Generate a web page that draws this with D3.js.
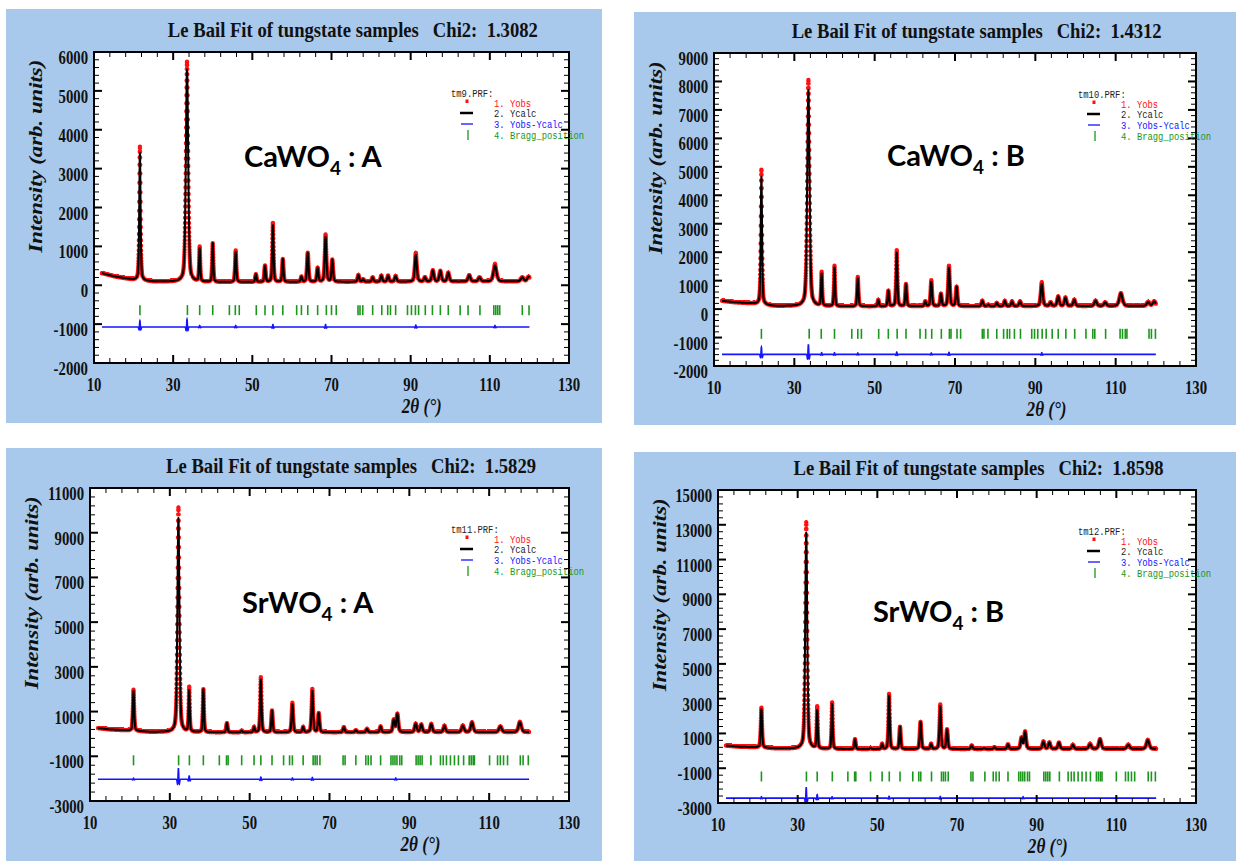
<!DOCTYPE html>
<html>
<head>
<meta charset="utf-8">
<script src="https://cdn.jsdelivr.net/npm/d3@7"></script>
<style>
  html, body { margin: 0; padding: 0; background: #ffffff; }
  svg { display: block; }
</style>
</head>
<body>
<svg id="fig" width="1236" height="861"></svg>
<script>
// ------------------------------------------------------------------
// Le Bail fits of four tungstate powder patterns (CaWO4 and SrWO4)
// ------------------------------------------------------------------

// shared axis / caption data
const xTickValues = [10, 30, 50, 70, 90, 110, 130];
const chi2Values = ["1.3082", "1.4312", "1.5829", "1.8598"];
const prfFiles = ["tm9.PRF:", "tm10.PRF:", "tm11.PRF:", "tm12.PRF:"];
const sampleLabels = [["CaWO", "4", " : A"], ["CaWO", "4", " : B"], ["SrWO", "4", " : A"], ["SrWO", "4", " : B"]];
const legendNames = ["1. Yobs", "2. Ycalc", "3. Yobs-Ycalc", "4. Bragg_position"];
// sample label anchor in data units [2theta, intensity]
const labelAnchors = [[47.9, 3040], [53.1, 5030], [48.1, 5410], [48.9, 7410]];

// ---------------- CaWO4 : A ----------------
const caA_yTicks = [-2000, -1000, 0, 1000, 2000, 3000, 4000, 5000, 6000];
const caA_background = [[12, 310], [15, 230], [20, 140], [25, 95], [40, 80], [120, 100]];
// [2theta, peak top (Ycalc), FWHM]
const caA_peaks = [
  [21.6, 3400, 0.40], [33.5, 5550, 0.70], [36.7, 930, 0.35], [40.0, 1075, 0.35],
  [45.8, 850, 0.40], [50.9, 280, 0.40], [53.2, 500, 0.40], [55.2, 1540, 0.40],
  [57.7, 670, 0.40], [62.4, 215, 0.45], [64.0, 830, 0.45], [66.5, 440, 0.45],
  [68.5, 1240, 0.50], [70.2, 650, 0.45], [76.8, 260, 0.50], [78.0, 150, 0.50],
  [80.4, 200, 0.50], [82.6, 245, 0.50], [84.3, 245, 0.50], [86.2, 235, 0.55],
  [91.3, 780, 0.60], [93.6, 200, 0.55], [95.6, 380, 0.60], [97.5, 365, 0.60],
  [99.5, 320, 0.60], [104.8, 255, 0.70], [107.4, 200, 0.70], [111.3, 510, 0.90],
  [118.2, 200, 0.80], [119.8, 215, 0.80]
];
// [2theta, Yobs - Ycalc amplitude]
const caA_residuals = [[21.6, 160], [33.5, 200], [36.7, 40], [45.8, 40], [55.2, 60], [68.5, 60], [91.3, 50], [111.3, 40]];
const caA_bragg = [21.6, 33.6, 36.7, 40.0, 44.2, 45.7, 46.7, 51.0, 53.2, 55.2, 57.7, 61.2, 62.4, 64.0, 66.5,
  68.7, 70.0, 71.2, 76.7, 77.2, 77.9, 80.4, 82.7, 84.2, 84.9, 86.2, 89.2, 90.2, 91.2, 92.0, 93.7, 95.5,
  97.5, 99.5, 102.5, 104.5, 107.5, 111.0, 111.5, 112.0, 112.5, 118.2, 119.9];
const caA_diffZero = -1075;
const caA_braggLevel = -640;

// ---------------- CaWO4 : B ----------------
const caB_yTicks = [-2000, -1000, 0, 1000, 2000, 3000, 4000, 5000, 6000, 7000, 8000, 9000];
const caB_background = [[12, 290], [15, 240], [20, 190], [25, 110], [40, 95], [120, 110]];
const caB_peaks = [
  [21.8, 4650, 0.40], [33.5, 7700, 0.70], [36.8, 1215, 0.35], [40.0, 1450, 0.35],
  [45.8, 1075, 0.40], [50.9, 320, 0.40], [53.4, 640, 0.40], [55.5, 1980, 0.40],
  [57.8, 875, 0.40], [62.6, 265, 0.45], [64.1, 955, 0.45], [66.5, 530, 0.45],
  [68.5, 1450, 0.50], [70.4, 780, 0.45], [76.8, 290, 0.50], [78.3, 150, 0.50],
  [80.4, 210, 0.50], [82.4, 285, 0.50], [84.2, 265, 0.50], [86.2, 265, 0.55],
  [91.6, 875, 0.60], [93.8, 230, 0.55], [95.7, 440, 0.60], [97.5, 400, 0.60],
  [99.7, 325, 0.60], [105.0, 290, 0.70], [107.4, 230, 0.70], [111.3, 555, 0.90],
  [118.1, 245, 0.80], [119.6, 265, 0.80]
];
const caB_residuals = [[21.8, 250], [33.5, 350], [36.8, 60], [40.0, 60], [45.8, 50], [55.5, 80], [64.1, 50], [68.5, 70], [91.6, 60]];
const caB_bragg = [21.8, 33.7, 36.7, 40.0, 44.3, 45.8, 46.7, 51.0, 53.4, 55.6, 57.8, 61.3, 62.7, 64.2, 66.6,
  68.6, 69.0, 70.5, 71.4, 76.8, 77.2, 78.2, 80.4, 82.1, 83.0, 83.6, 84.8, 86.3, 89.1, 89.8, 90.6, 91.7,
  92.7, 94.2, 95.7, 97.6, 99.8, 102.6, 104.3, 104.8, 107.5, 111.1, 111.7, 112.4, 112.8, 118.3, 118.9, 119.9];
const caB_diffZero = -1590;
const caB_braggLevel = -870;

// ---------------- SrWO4 : A ----------------
const srA_yTicks = [-3000, -1000, 1000, 3000, 5000, 7000, 9000, 11000];
const srA_background = [[12, 260], [15, 200], [20, 150], [25, 90], [40, 70], [120, 80]];
const srA_peaks = [
  [20.9, 1920, 0.40], [32.15, 9650, 0.60], [34.85, 1920, 0.35], [38.4, 1990, 0.35],
  [44.3, 480, 0.40], [48.0, 140, 0.40], [51.1, 300, 0.40], [52.8, 2430, 0.40],
  [55.6, 1040, 0.40], [60.7, 1330, 0.45], [63.4, 300, 0.45], [65.7, 1920, 0.45],
  [67.3, 920, 0.45], [73.6, 300, 0.50], [76.6, 160, 0.50], [79.4, 220, 0.50],
  [82.8, 330, 0.50], [86.1, 620, 0.55], [87.0, 890, 0.55], [91.6, 450, 0.60],
  [93.0, 410, 0.60], [95.5, 440, 0.60], [98.8, 365, 0.60], [103.4, 365, 0.70],
  [105.7, 510, 0.70], [112.8, 330, 0.80], [117.7, 530, 0.80]
];
const srA_residuals = [[20.9, 50], [32.15, 480], [34.85, 150], [52.8, 100], [60.7, 60], [65.7, 80], [86.6, 60]];
const srA_bragg = [20.9, 32.2, 34.9, 38.4, 42.4, 44.2, 44.6, 48.0, 51.1, 52.8, 55.6, 58.5, 60.0, 60.7, 63.4,
  65.9, 66.4, 66.9, 67.6, 73.4, 73.9, 76.6, 79.1, 79.7, 80.4, 82.8, 85.4, 85.9, 86.4, 86.9, 87.6, 88.1,
  91.7, 92.2, 92.7, 93.2, 95.4, 97.8, 98.5, 99.3, 100.3, 101.3, 102.3, 103.6, 105.0, 105.5, 106.0, 106.3,
  110.1, 112.1, 112.8, 113.6, 114.6, 117.8, 118.5, 119.8];
const srA_diffZero = -2030;
const srA_braggLevel = -1180;

// ---------------- SrWO4 : B ----------------
const srB_yTicks = [-3000, -1000, 1000, 3000, 5000, 7000, 9000, 11000, 13000, 15000];
const srB_background = [[12, 300], [15, 240], [20, 200], [25, 130], [40, 100], [120, 110]];
const srB_peaks = [
  [20.9, 2400, 0.40], [32.15, 12550, 0.60], [34.9, 2300, 0.35], [38.65, 2690, 0.35],
  [44.4, 660, 0.40], [48.3, 160, 0.40], [51.2, 390, 0.40], [52.95, 3170, 0.40],
  [55.7, 1380, 0.40], [60.85, 1660, 0.45], [63.5, 390, 0.45], [65.8, 2550, 0.45],
  [67.5, 1220, 0.45], [73.7, 300, 0.50], [76.8, 150, 0.50], [79.4, 210, 0.50],
  [82.8, 370, 0.50], [86.2, 745, 0.55], [87.1, 1090, 0.55], [91.7, 525, 0.60],
  [93.2, 470, 0.60], [95.6, 470, 0.60], [99.1, 340, 0.60], [103.4, 390, 0.70],
  [105.9, 660, 0.70], [113.0, 340, 0.80], [117.9, 620, 0.80]
];
const srB_residuals = [[20.9, 80], [32.15, 600], [34.9, 200], [38.65, 80], [52.95, 100], [65.8, 100], [86.6, 80]];
const srB_bragg = [20.9, 32.2, 34.9, 38.7, 42.6, 44.3, 44.6, 48.3, 51.2, 53.0, 55.7, 58.9, 60.4, 60.9, 63.6,
  66.1, 66.6, 67.1, 67.8, 73.5, 74.0, 77.0, 79.1, 79.8, 80.6, 82.8, 85.5, 86.0, 86.5, 87.0, 87.7, 88.2,
  91.8, 92.3, 92.8, 93.3, 95.7, 97.9, 98.7, 99.4, 100.4, 101.4, 102.4, 103.5, 105.0, 105.5, 106.0, 106.4,
  110.0, 112.3, 113.0, 113.8, 114.6, 118.0, 118.8, 119.8];
const srB_diffZero = -2720;
const srB_braggLevel = -1475;

// ------------------------------------------------------------------
// panel table built from the arrays above
const panels = [
  { yTicks: caA_yTicks, yMinor: 200, background: caA_background, peaks: caA_peaks, residuals: caA_residuals, bragg: caA_bragg, diffZero: caA_diffZero, braggLevel: caA_braggLevel },
  { yTicks: caB_yTicks, yMinor: 200, background: caB_background, peaks: caB_peaks, residuals: caB_residuals, bragg: caB_bragg, diffZero: caB_diffZero, braggLevel: caB_braggLevel },
  { yTicks: srA_yTicks, yMinor: 400, background: srA_background, peaks: srA_peaks, residuals: srA_residuals, bragg: srA_bragg, diffZero: srA_diffZero, braggLevel: srA_braggLevel },
  { yTicks: srB_yTicks, yMinor: 400, background: srB_background, peaks: srB_peaks, residuals: srB_residuals, bragg: srB_bragg, diffZero: srB_diffZero, braggLevel: srB_braggLevel }
].map((p, i) => Object.assign(p, {
  chi2: chi2Values[i], file: prfFiles[i], label: sampleLabels[i], labelAt: labelAnchors[i]
}));

// page layout: light-blue card and plotting frame for each panel [x0, y0, x1, y1]
const layout = [
  { card: [6, 9, 602, 423],    frame: [94, 52, 569, 363] },
  { card: [634, 12, 1236, 425], frame: [714, 53, 1196, 366] },
  { card: [6, 448, 602, 861],   frame: [90, 488, 569, 801] },
  { card: [634, 452, 1236, 861], frame: [718, 490, 1196, 803] }
];

const SERIF = "'Liberation Serif', 'Times New Roman', serif";
const MONO = "'Liberation Mono', 'DejaVu Sans Mono', monospace";
const SANS = "Lato, 'Open Sans', sans-serif";
const COL = { card: "#a8c8ec", obs: "#ff1010", calc: "#000000", diff: "#1414ff", bragg: "#1c961c" };

// pseudo-Voigt line shape (unit height)
function pseudoVoigt(u, w) {
  const t = (u * u) / (w * w);
  return 0.4 / (1 + 4 * t) + 0.6 * Math.exp(-4 * Math.LN2 * t);
}
// misfit shape: positive at the centre with small negative lobes
function misfit(u) {
  const t = (u / 0.13) * (u / 0.13);
  return (1 - t) * Math.exp(-t / 2);
}

const svg = d3.select("#fig");

function serifText(parent, x, y, str, size, anchor, sx) {
  return parent.append("text")
    .attr("transform", `translate(${x},${y}) scale(${sx},1)`)
    .attr("text-anchor", anchor)
    .attr("font-family", SERIF)
    .attr("font-weight", "bold")
    .attr("font-size", size)
    .attr("fill", "#111")
    .text(str);
}

function drawPanel(p, L) {
  const g = svg.append("g");
  const [cx0, cy0, cx1, cy1] = L.card;
  const [x0, y0, x1, y1] = L.frame;

  g.append("rect").attr("x", cx0).attr("y", cy0)
    .attr("width", cx1 - cx0).attr("height", cy1 - cy0).attr("fill", COL.card);
  g.append("rect").attr("x", x0).attr("y", y0)
    .attr("width", x1 - x0).attr("height", y1 - y0).attr("fill", "#ffffff");

  const x = d3.scaleLinear().domain([10, 130]).range([x0, x1]);
  const y = d3.scaleLinear().domain(d3.extent(p.yTicks)).range([y1, y0]);

  const bgAt = d3.scaleLinear()
    .domain(p.background.map(d => d[0]))
    .range(p.background.map(d => d[1]))
    .clamp(true);
  const ycalc = t => bgAt(t) + d3.sum(p.peaks, ([c, top, w]) => (top - bgAt(c)) * pseudoVoigt(t - c, w));
  const resid = t => d3.sum(p.residuals, ([c, a]) => a * misfit(t - c));

  // fine grid for the calculated profile, measured step for observed points
  const fine = d3.range(1200, 12001).map(i => i / 100);
  const steps = d3.range(600, 6001).map(i => i / 50);

  // Yobs as red points (one path of small discs)
  const r = 2.2;
  const dots = d3.path();
  steps.forEach(t => {
    const px = x(t), py = y(ycalc(t) + resid(t));
    dots.moveTo(px + r, py);
    dots.arc(px, py, r, 0, 2 * Math.PI);
  });
  g.append("path").attr("d", dots.toString()).attr("fill", COL.obs);

  // Ycalc
  const line = d3.line().x(t => x(t)).y(t => y(ycalc(t)));
  g.append("path").attr("d", line(fine))
    .attr("fill", "none").attr("stroke", COL.calc).attr("stroke-width", 2)
    .attr("stroke-linejoin", "round");

  // Yobs - Ycalc
  const dline = d3.line().x(t => x(t)).y(t => y(p.diffZero + resid(t)));
  g.append("path").attr("d", dline(steps))
    .attr("fill", "none").attr("stroke", COL.diff).attr("stroke-width", 1.6);

  // Bragg positions
  g.append("g").selectAll("line").data(p.bragg).join("line")
    .attr("x1", d => x(d)).attr("x2", d => x(d))
    .attr("y1", y(p.braggLevel) - 5).attr("y2", y(p.braggLevel) + 5)
    .attr("stroke", COL.bragg).attr("stroke-width", 1.6);

  // frame
  g.append("rect").attr("x", x0).attr("y", y0)
    .attr("width", x1 - x0).attr("height", y1 - y0)
    .attr("fill", "none").attr("stroke", "#000").attr("stroke-width", 2);

  // inward ticks on all four sides
  const [ylo, yhi] = y.domain();
  const yMajor = p.yTicks;
  const yMinor = d3.range(ylo, yhi + 1, p.yMinor).filter(v => !yMajor.includes(v));
  const xMinor = d3.range(10, 131, 4).filter(v => !xTickValues.includes(v));
  const tk = g.append("g").attr("stroke", "#000");
  const hTick = (vals, len, w) => {
    vals.forEach(v => {
      tk.append("line").attr("x1", x0).attr("x2", x0 + len).attr("y1", y(v)).attr("y2", y(v)).attr("stroke-width", w);
      tk.append("line").attr("x1", x1).attr("x2", x1 - len).attr("y1", y(v)).attr("y2", y(v)).attr("stroke-width", w);
    });
  };
  const vTick = (vals, len, w) => {
    vals.forEach(v => {
      tk.append("line").attr("x1", x(v)).attr("x2", x(v)).attr("y1", y1).attr("y2", y1 - len).attr("stroke-width", w);
      tk.append("line").attr("x1", x(v)).attr("x2", x(v)).attr("y1", y0).attr("y2", y0 + len).attr("stroke-width", w);
    });
  };
  hTick(yMajor, 8, 2);
  hTick(yMinor, 5, 1);
  vTick(xTickValues, 8, 2);
  vTick(xMinor, 5, 1);

  // tick labels
  yMajor.forEach(v => serifText(g, x0 - 6, y(v) + 12, String(v), 18, "end", 0.82));
  xTickValues.forEach(v => serifText(g, x(v), y1 + 28, String(v), 18, "middle", 0.82));

  // titles
  serifText(g, x0 + 0.545 * (x1 - x0), y0 - 15, "", 21, "middle", 1)
    .attr("textLength", 370).attr("lengthAdjust", "spacingAndGlyphs")
    .attr("xml:space", "preserve")
    .text(`Le Bail Fit of tungstate samples   Chi2:  ${p.chi2}`);

  g.append("text")
    .attr("transform", `translate(${x0 - 52},${y0 + 0.335 * (y1 - y0)}) rotate(-90) scale(1,0.88)`)
    .attr("text-anchor", "middle")
    .attr("font-family", SERIF).attr("font-weight", "bold").attr("font-style", "italic")
    .attr("font-size", 22).attr("fill", "#111")
    .attr("textLength", 193).attr("lengthAdjust", "spacingAndGlyphs")
    .text("Intensity (arb. units)");

  g.append("text")
    .attr("x", x0 + 0.69 * (x1 - x0)).attr("y", y1 + 50)
    .attr("text-anchor", "middle")
    .attr("font-family", SERIF).attr("font-weight", "bold").attr("font-style", "italic")
    .attr("font-size", 20).attr("fill", "#111")
    .attr("textLength", 40).attr("lengthAdjust", "spacingAndGlyphs")
    .text("2θ (°)");

  // sample label
  const lab = g.append("text")
    .attr("x", x(p.labelAt[0])).attr("y", y(p.labelAt[1]))
    .attr("font-family", SANS).attr("font-weight", "bold")
    .attr("font-size", 29).attr("fill", "#000");
  lab.append("tspan").text(p.label[0]);
  lab.append("tspan").attr("font-size", 19).attr("dy", 8).text(p.label[1]);
  lab.append("tspan").attr("dy", -8).attr("xml:space", "preserve").text(p.label[2]);

  // legend
  const lg = g.append("g").attr("font-family", MONO).attr("font-size", 10.5);
  const tx = x1 - 75;
  const mono = (sx, sy, str, color) => lg.append("text").attr("x", sx).attr("y", sy)
    .attr("fill", color).attr("textLength", str.length * 5.3).attr("lengthAdjust", "spacingAndGlyphs").text(str);
  mono(x1 - 118, y0 + 45, p.file, "#222");
  mono(tx, y0 + 55, legendNames[0], COL.obs);
  mono(tx, y0 + 65, legendNames[1], "#222");
  mono(tx, y0 + 76, legendNames[2], COL.diff);
  mono(tx, y0 + 87, legendNames[3], COL.bragg);
  lg.append("rect").attr("x", x1 - 103.5).attr("y", y0 + 47.5).attr("width", 3).attr("height", 3.5).attr("fill", COL.obs);
  lg.append("line").attr("x1", x1 - 109).attr("x2", x1 - 96).attr("y1", y0 + 61).attr("y2", y0 + 61)
    .attr("stroke", COL.calc).attr("stroke-width", 2.5);
  lg.append("line").attr("x1", x1 - 108).attr("x2", x1 - 96).attr("y1", y0 + 72).attr("y2", y0 + 72)
    .attr("stroke", COL.diff).attr("stroke-width", 1.3);
  lg.append("line").attr("x1", x1 - 101).attr("x2", x1 - 101).attr("y1", y0 + 78).attr("y2", y0 + 88)
    .attr("stroke", COL.bragg).attr("stroke-width", 1.3);
}

panels.forEach((p, i) => drawPanel(p, layout[i]));
</script>
</body>
</html>
